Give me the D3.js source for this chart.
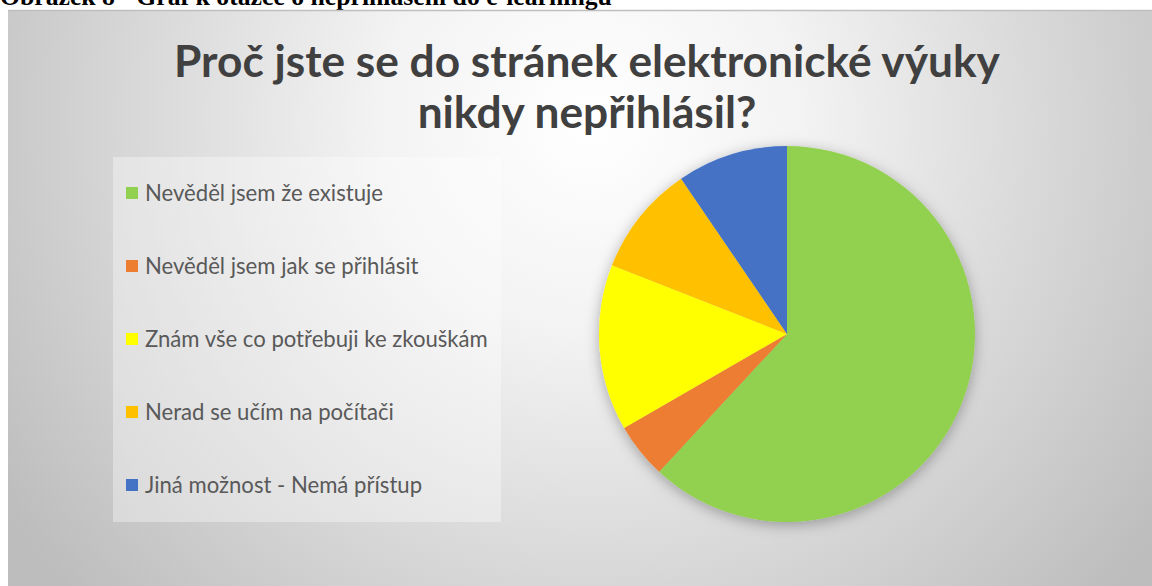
<!DOCTYPE html>
<html>
<head>
<meta charset="utf-8">
<script src="https://cdn.jsdelivr.net/npm/d3@7"></script>
<style>
  html, body { margin: 0; padding: 0; background: #ffffff; }
  svg { display: block; }
</style>
</head>
<body>
<svg id="chart" width="1152" height="586"></svg>
<script>
// Survey: why respondents never logged into the e-learning pages
const categories = [
  "Nevěděl jsem že existuje",
  "Nevěděl jsem jak se přihlásit",
  "Znám vše co potřebuji ke zkouškám",
  "Nerad se učím na počítači",
  "Jiná možnost - Nemá přístup"
];
const counts = [13, 1, 3, 2, 2];
const sliceColors = ["#92d050", "#ed7d31", "#ffff00", "#ffc000", "#4472c4"];
const titleLines = ["Proč jste se do stránek elektronické výuky", "nikdy nepřihlásil?"];
const captionText = "Obrázek 8 - Graf k otázce o nepřihlášení do e-learningu";

const W = 1152, H = 586;
const svg = d3.select("#chart");
const defs = svg.append("defs");

// Fit a text element's font size so it spans a target width
function fitWidth(sel, target) {
  const fs = parseFloat(sel.attr("font-size"));
  const w = sel.node().getComputedTextLength();
  sel.attr("font-size", fs * target / w);
  return fs * target / w;
}

// Chart-area background: radial white-to-grey fill
const bg = defs.append("radialGradient")
  .attr("id", "bgGrad")
  .attr("gradientUnits", "userSpaceOnUse")
  .attr("cx", 590).attr("cy", 120).attr("r", 700);
bg.append("stop").attr("offset", 0).attr("stop-color", "#ffffff");
bg.append("stop").attr("offset", 0.3).attr("stop-color", "#f3f3f3");
bg.append("stop").attr("offset", 1).attr("stop-color", "#bdbdbd");

const shadow = defs.append("filter").attr("id", "pieShadow")
  .attr("x", "-20%").attr("y", "-20%").attr("width", "140%").attr("height", "140%");
shadow.append("feDropShadow")
  .attr("dx", 0).attr("dy", 3).attr("stdDeviation", 7)
  .attr("flood-color", "#000").attr("flood-opacity", 0.3);

// Figure caption above the chart (partly clipped by the top of the page)
const cap = svg.append("text")
  .attr("x", 0).attr("y", 5)
  .attr("font-family", "Liberation Serif, Times New Roman, serif")
  .attr("font-weight", "bold")
  .attr("font-size", 18)
  .attr("fill", "#000")
  .text(captionText);
fitWidth(cap, 612);

const area = { x: 8, y: 10, w: W - 8, h: H - 10 };
svg.append("rect")
  .attr("x", area.x).attr("y", area.y)
  .attr("width", area.w).attr("height", area.h)
  .attr("fill", "url(#bgGrad)");
svg.append("line")
  .attr("x1", area.x).attr("x2", W)
  .attr("y1", area.y + 0.5).attr("y2", area.y + 0.5)
  .attr("stroke", "#bfbfbf").attr("stroke-width", 1.5);

// Title
const titleColor = "#404040";
const t1 = svg.append("text")
  .attr("x", 587).attr("y", 77)
  .attr("text-anchor", "middle")
  .attr("font-family", "Lato, Open Sans, sans-serif")
  .attr("font-weight", "bold")
  .attr("font-size", 42)
  .attr("fill", titleColor)
  .text(titleLines[0]);
const titleSize = fitWidth(t1, 826);
svg.append("text")
  .attr("x", 587).attr("y", 128)
  .attr("text-anchor", "middle")
  .attr("font-family", "Lato, Open Sans, sans-serif")
  .attr("font-weight", "bold")
  .attr("font-size", titleSize)
  .attr("fill", titleColor)
  .text(titleLines[1]);

// Legend
const legend = svg.append("g");
legend.append("rect")
  .attr("x", 113).attr("y", 157)
  .attr("width", 388).attr("height", 365)
  .attr("fill", "#ffffff").attr("fill-opacity", 0.35);

const rowY = d3.scalePoint().domain(categories).range([193, 485]);
const color = d3.scaleOrdinal().domain(categories).range(sliceColors);

const items = legend.selectAll("g.item").data(categories).join("g")
  .attr("class", "item")
  .attr("transform", d => `translate(0,${rowY(d)})`);
items.append("rect")
  .attr("x", 126).attr("y", -6)
  .attr("width", 12).attr("height", 12)
  .attr("fill", d => color(d));
const labels = items.append("text")
  .attr("x", 145).attr("y", 0)
  .attr("dy", "0.35em")
  .attr("font-family", "Lato, Open Sans, sans-serif")
  .attr("font-size", 20)
  .attr("fill", "#595959")
  .text(d => d);
const longest = labels.filter((d, i) => i === 2);
const legendSize = fitWidth(longest, 343);
labels.attr("font-size", legendSize);

// Pie
const cx = 787, cy = 334, r = 188;
const pie = d3.pie().sort(null).value(d => d.value)
  .startAngle(0).endAngle(2 * Math.PI);
const arc = d3.arc().innerRadius(0).outerRadius(r);
const data = categories.map((c, i) => ({ cat: c, value: counts[i] }));

const pieG = svg.append("g")
  .attr("transform", `translate(${cx},${cy})`)
  .attr("filter", "url(#pieShadow)");
pieG.selectAll("path").data(pie(data)).join("path")
  .attr("d", arc)
  .attr("fill", d => color(d.data.cat));
</script>
</body>
</html>
